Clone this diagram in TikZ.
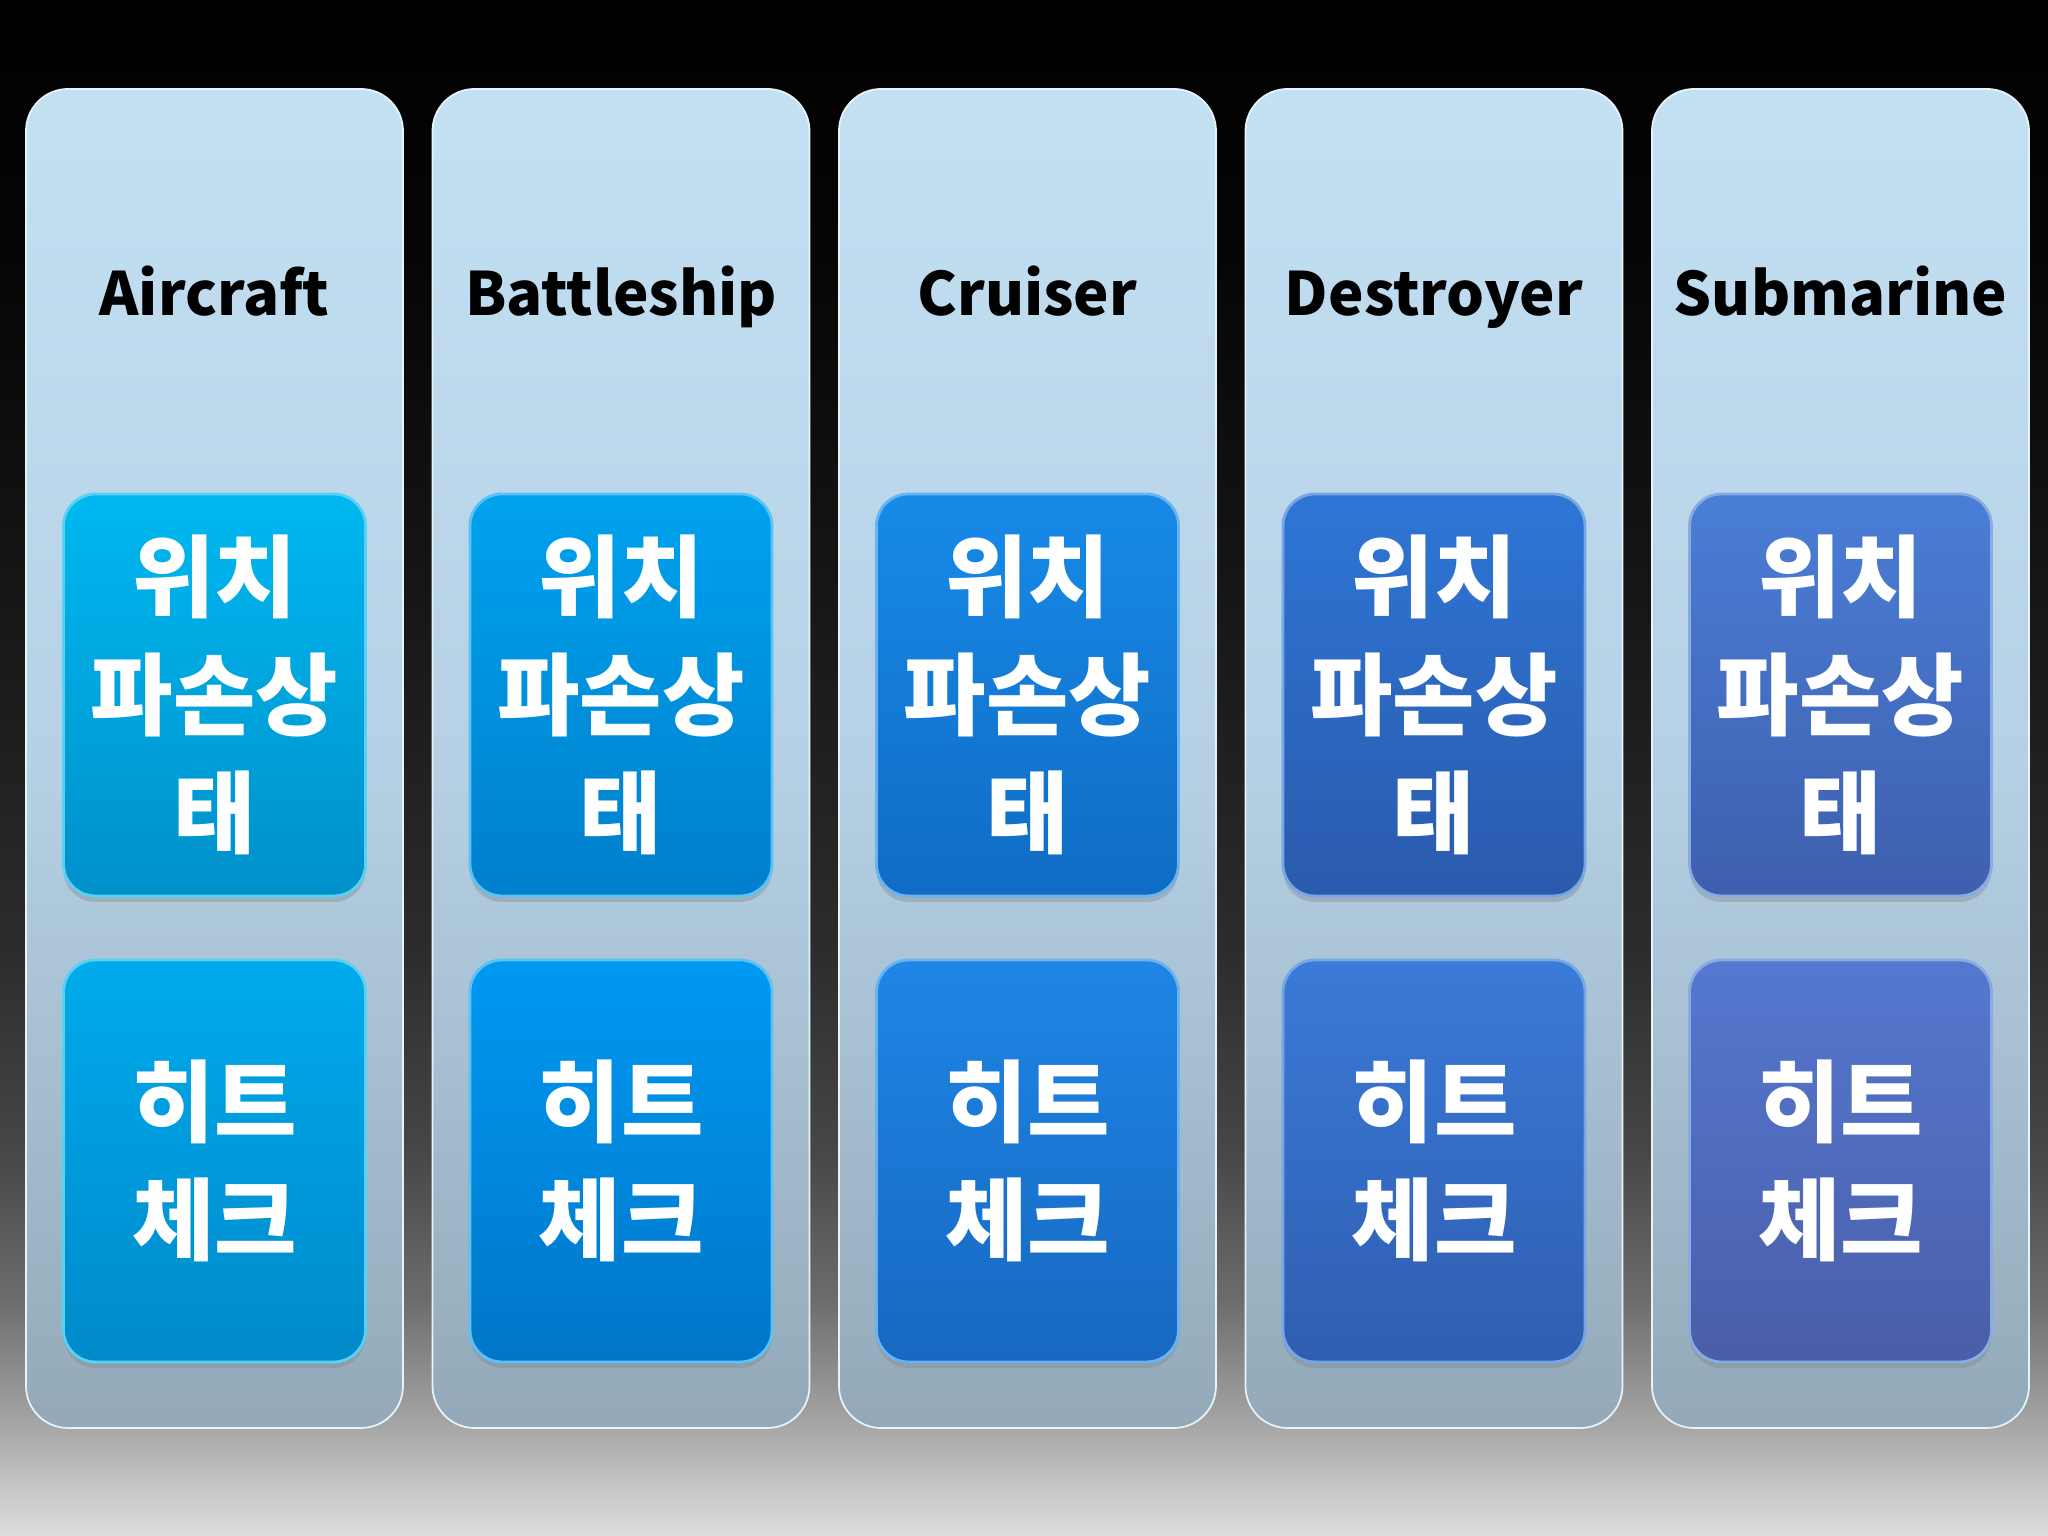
\documentclass[tikz,border=0pt]{standalone}
\usepackage{fontspec}
\newfontfamily\kofont{Noto Sans CJK KR}
\usetikzlibrary{shadows}

\definecolor{bgA}{HTML}{DEDEDE}
\definecolor{bgB}{HTML}{A9A9A9}
\definecolor{bgC}{HTML}{6C6C6C}
\definecolor{bgD}{HTML}{464646}
\definecolor{bgE}{HTML}{2C2C2C}
\definecolor{bgF}{HTML}{161616}
\definecolor{bgG}{HTML}{050505}

% background: black at the top, light grey at the bottom
\pgfdeclareverticalshading{stagebg}{100bp}{%
    color(0bp)=(bgA); color(25bp)=(bgA); color(28.4bp)=(bgB); color(32.7bp)=(bgC);
    color(37.6bp)=(bgD); color(44.1bp)=(bgE); color(55.5bp)=(bgF); color(66.9bp)=(bgG);
    color(75bp)=(black); color(100bp)=(black)}

\definecolor{colTop}{HTML}{C4E0F3}
\definecolor{colMid}{HTML}{B6D1E5}
\definecolor{colBot}{HTML}{93A9B9}

% inner boxes, top and bottom shade per column
\definecolor{airT}{HTML}{00B8F0}   \definecolor{airB}{HTML}{0090CA}
\definecolor{batT}{HTML}{00A2EE}   \definecolor{batB}{HTML}{007FCC}
\definecolor{cruT}{HTML}{178AE8}   \definecolor{cruB}{HTML}{106CC4}
\definecolor{desT}{HTML}{2E76D6}   \definecolor{desB}{HTML}{2A5AAC}
\definecolor{subT}{HTML}{4A7ED6}   \definecolor{subB}{HTML}{3F5FAE}

\definecolor{airT2}{HTML}{00AAEC}  \definecolor{airB2}{HTML}{008ACA}
\definecolor{batT2}{HTML}{0099F2}  \definecolor{batB2}{HTML}{0076C8}
\definecolor{cruT2}{HTML}{1E86E6}  \definecolor{cruB2}{HTML}{1768C0}
\definecolor{desT2}{HTML}{3A7AD8}  \definecolor{desB2}{HTML}{2F5EB0}
\definecolor{subT2}{HTML}{5578D0}  \definecolor{subB2}{HTML}{4A5EA8}

\tikzset{
    column/.style={rounded corners=4.2mm, minimum width=3.77cm, minimum height=13.39cm,
        top color=colTop, bottom color=colBot, middle color=colMid,
        draw=white!60!colTop, line width=0.5pt, inner sep=0pt},
    title/.style={anchor=base, font=\kofont\bfseries\fontsize{17}{20}\selectfont, text=black},
    card/.style={rounded corners=3.2mm, minimum width=3.02cm, minimum height=4.02cm,
        top color=#1T, bottom color=#1B, draw=white!35!#1T, line width=0.8pt,
        drop shadow={opacity=0.35, shadow xshift=0pt, shadow yshift=-0.6mm},
        align=center, text=white, inner sep=0pt,
        font=\kofont\bfseries\fontsize{25.5}{33.5}\selectfont},
}

\begin{document}
\begin{tikzpicture}

    \def\pitch{4.065}      % distance between two columns
    \def\xa{2.145}         % centre of the first column
    \def\yc{7.775}         % centre of the columns
    \def\yt{12.20}         % baseline of the titles
    \def\yu{8.41}          % upper cards
    \def\yl{3.75}          % lower cards

    \shade[shading=stagebg] (0,0) rectangle (20.48,15.36);
    \useasboundingbox (0,0) rectangle (20.48,15.36);

    % columns
    \node[column] (air) at ({\xa + 0*\pitch}, \yc) {};
    \node[column] (bat) at ({\xa + 1*\pitch}, \yc) {};
    \node[column] (cru) at ({\xa + 2*\pitch}, \yc) {};
    \node[column] (des) at ({\xa + 3*\pitch}, \yc) {};
    \node[column] (sub) at ({\xa + 4*\pitch}, \yc) {};

    % titles
    \node[title] (airtitle) at ({\xa + 0*\pitch}, \yt) {Aircraft};
    \node[title] (battitle) at ({\xa + 1*\pitch}, \yt) {Battleship};
    \node[title] (crutitle) at ({\xa + 2*\pitch}, \yt) {Cruiser};
    \node[title] (destitle) at ({\xa + 3*\pitch}, \yt) {Destroyer};
    \node[title] (subtitle) at ({\xa + 4*\pitch}, \yt) {Submarine};

    % upper cards
    \node[card=air] (airstate) at ({\xa + 0*\pitch}, \yu) {위치\\파손상\\태};
    \node[card=bat] (batstate) at ({\xa + 1*\pitch}, \yu) {위치\\파손상\\태};
    \node[card=cru] (crustate) at ({\xa + 2*\pitch}, \yu) {위치\\파손상\\태};
    \node[card=des] (desstate) at ({\xa + 3*\pitch}, \yu) {위치\\파손상\\태};
    \node[card=sub] (substate) at ({\xa + 4*\pitch}, \yu) {위치\\파손상\\태};

    % lower cards
    \node[card=air, top color=airT2, bottom color=airB2] (airhit) at ({\xa + 0*\pitch}, \yl) {히트\\체크};
    \node[card=bat, top color=batT2, bottom color=batB2] (bathit) at ({\xa + 1*\pitch}, \yl) {히트\\체크};
    \node[card=cru, top color=cruT2, bottom color=cruB2] (cruhit) at ({\xa + 2*\pitch}, \yl) {히트\\체크};
    \node[card=des, top color=desT2, bottom color=desB2] (deshit) at ({\xa + 3*\pitch}, \yl) {히트\\체크};
    \node[card=sub, top color=subT2, bottom color=subB2] (subhit) at ({\xa + 4*\pitch}, \yl) {히트\\체크};

\end{tikzpicture}
\end{document}
